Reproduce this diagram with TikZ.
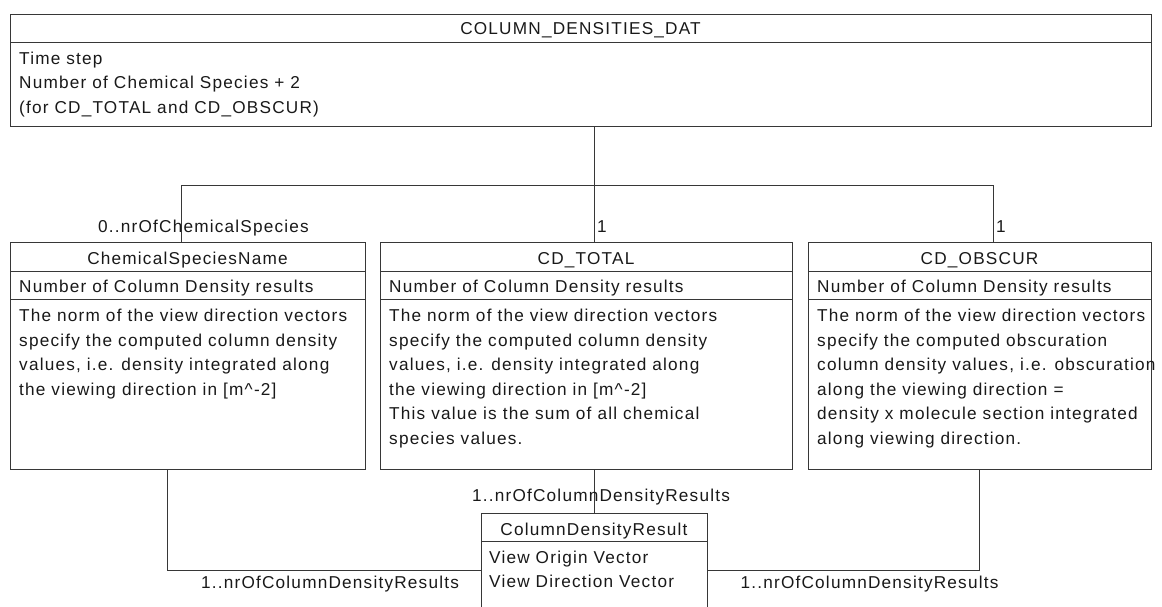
\documentclass[tikz,border=0pt]{standalone}
\usepackage{fontspec}
\setmainfont{Liberation Sans}[LetterSpace=7]
\newcommand\dfont{\fontsize{17.2}{24.5}\selectfont}
\definecolor{linec}{RGB}{55,55,55}
\definecolor{txtc}{RGB}{25,25,25}
\tikzset{
  cls/.style={draw=linec, line width=1pt, inner sep=0pt, anchor=north west},
  divl/.style={draw=linec, line width=1pt},
  conn/.style={draw=linec, line width=1pt},
  body/.style={anchor=north west, inner sep=0pt, align=left, text=txtc, font=\dfont},
  oneline/.style={anchor=base west, inner sep=0pt, text=txtc, font=\dfont},
  ttl/.style={anchor=base, inner sep=0pt, text=txtc, font=\dfont},
  lbl/.style={anchor=base, inner sep=0pt, text=txtc, font=\dfont},
  lblw/.style={anchor=base west, inner sep=0pt, text=txtc, font=\dfont},
}
\begin{document}
\begin{tikzpicture}[x=1pt,y=-1pt]
\clip (0,0) rectangle (1162,606);
\fill[white] (0,0) rectangle (1162,606);
% class boxes
\node[cls, minimum width=1141pt, minimum height=112pt] (top) at (10,14) {};
\node[cls, minimum width=355pt, minimum height=227pt] (box1) at (10,242) {};
\node[cls, minimum width=412pt, minimum height=227pt] (box2) at (380,242) {};
\node[cls, minimum width=343pt, minimum height=227pt] (box3) at (808,242) {};
\node[cls, minimum width=226pt, minimum height=110pt] (cdr) at (481,513) {};
% compartment dividers
\draw[divl] (top.west |- 0,42) -- (top.east |- 0,42);
\draw[divl] (box1.west |- 0,271) -- (box1.east |- 0,271);
\draw[divl] (box1.west |- 0,299) -- (box1.east |- 0,299);
\draw[divl] (box2.west |- 0,271) -- (box2.east |- 0,271);
\draw[divl] (box2.west |- 0,299) -- (box2.east |- 0,299);
\draw[divl] (box3.west |- 0,271) -- (box3.east |- 0,271);
\draw[divl] (box3.west |- 0,299) -- (box3.east |- 0,299);
\draw[divl] (cdr.west |- 0,541) -- (cdr.east |- 0,541);
% connectors
\coordinate (jc) at (594,185);
\coordinate (jl) at (181,185);
\coordinate (jr) at (993,185);
\coordinate (bl) at (167,570);
\coordinate (br) at (979,570);
\draw[conn] (top.south -| jc) -- (box2.north -| jc);
\draw[conn] (box1.north -| jl) |- (jr) -- (box3.north -| jr);
\draw[conn] (box1.south -| bl) |- (cdr.west |- bl);
\draw[conn] (box2.south -| jc) -- (cdr.north -| jc);
\draw[conn] (box3.south -| br) |- (cdr.east |- br);
% texts
\node[ttl] (ttop) at (580.5,34) {COLUMN\_DENSITIES\_DAT};
\node[body] (atop) at (19,46.85) {\strut Time step\\Number of Chemical Species + 2\\(for CD\_TOTAL and CD\_OBSCUR)};
\node[ttl] (t1) at (187.5,264) {ChemicalSpeciesName};
\node[ttl] (t2) at (586,264) {CD\_TOTAL};
\node[ttl] (t3) at (979.5,264) {CD\_OBSCUR};
\node[oneline] (a1) at (19,292) {Number of Column Density results};
\node[oneline] (a2) at (389,292) {Number of Column Density results};
\node[oneline] (a3) at (817,292) {Number of Column Density results};
\node[body] (b1) at (19,304.35) {\strut The norm of the view direction vectors\\specify the computed column density\\values, i.e. density integrated along\\the viewing direction in [m\textasciicircum-2]};
\node[body] (b2) at (389,304.35) {\strut The norm of the view direction vectors\\specify the computed column density\\values, i.e. density integrated along\\the viewing direction in [m\textasciicircum-2]\\This value is the sum of all chemical\\species values.};
\node[body] (b3) at (817,304.35) {\strut The norm of the view direction vectors\\specify the computed obscuration\\column density values, i.e. obscuration\\along the viewing direction =\\density x molecule section integrated\\along viewing direction.};
\node[ttl] (tc) at (594,535) {ColumnDensityResult};
\node[body] (bc) at (489,545.85) {\strut View Origin Vector\\View Direction Vector};
% multiplicity labels
\node[lbl] (m1) at (203.5,232) {0..nrOfChemicalSpecies};
\node[lblw] (m2) at (597,232) {1};
\node[lblw] (m3) at (996,232) {1};
\node[lbl] (m4) at (601,501) {1..nrOfColumnDensityResults};
\node[lbl] (m5) at (330,588) {1..nrOfColumnDensityResults};
\node[lbl] (m6) at (869.5,588) {1..nrOfColumnDensityResults};
\end{tikzpicture}
\end{document}
